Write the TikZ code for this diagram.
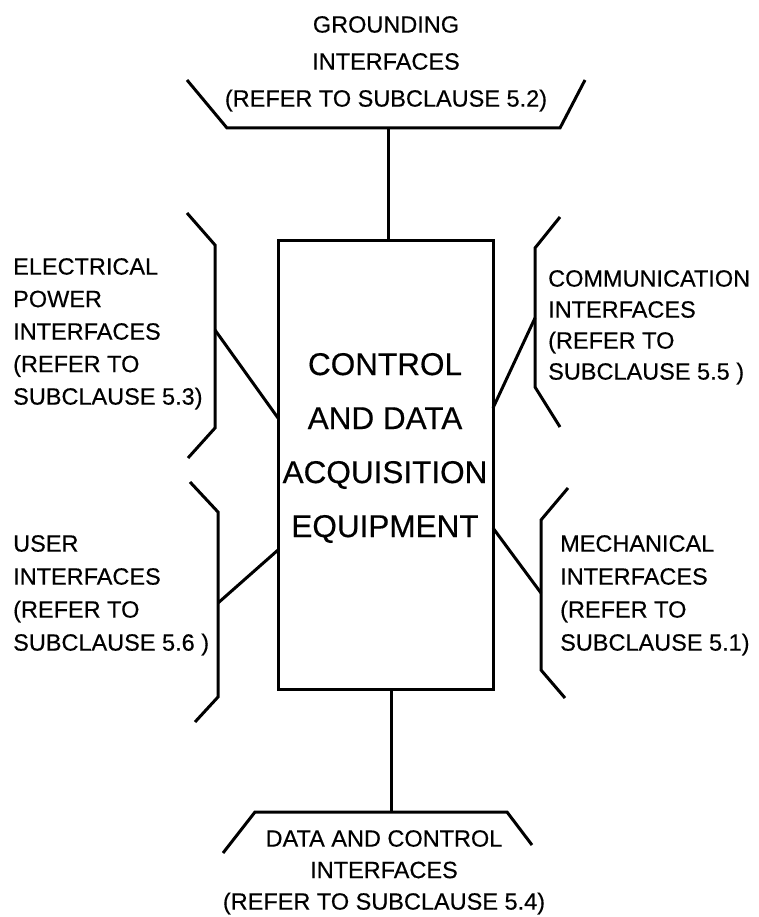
\documentclass[tikz,border=0pt]{standalone}
\usepackage{fontspec}
\setmainfont{Liberation Sans}[FakeBold=0.4]
\usetikzlibrary{positioning}

\tikzset{
	wire/.style={line width=3pt, line join=miter},
	lbl/.style={inner sep=0pt, align=left, anchor=north west, font=\fontsize{23.5}{32.5}\selectfont},
	clbl/.style={inner sep=0pt, align=center, anchor=north},
}

\begin{document}
\begin{tikzpicture}[x=1pt,y=-1pt]
	\useasboundingbox (0,0) rectangle (759,917);
	% main box
	\node [draw, line width=3pt, inner sep=0pt, minimum width=215pt, minimum height=449pt] (equip) at (385.5,464.5) {};
	\node [align=center, inner sep=0pt, font=\fontsize{31.5}{54}\selectfont] (equiptxt) at (385,448) {CONTROL\\AND DATA\\ACQUISITION\\EQUIPMENT};
	%
	\coordinate (gnd) at (388,128);
	\coordinate (pwr) at (215,330);
	\coordinate (pwrin) at (278,418);
	\coordinate (comm) at (535,318);
	\coordinate (commin) at (493,408);
	\coordinate (usr) at (218,603);
	\coordinate (usrin) at (278,550);
	\coordinate (mech) at (541,593);
	\coordinate (mechin) at (493,528);
	\coordinate (dac) at (391,812);
	\coordinate (dacin) at (391,689);
	%
	\draw [wire] (187,80) -- (227,128) -- (560,128) -- (585,80);
	\draw [wire] (187,213) -- (215,245) -- (215,428) -- (188,458);
	\draw [wire] (560,217) -- (535,248) -- (535,387) -- (560,427);
	\draw [wire] (190,482) -- (218,512) -- (218,697) -- (195,722);
	\draw [wire] (568,488) -- (541,520) -- (541,670) -- (565,698);
	\draw [wire] (223,853) -- (255,812) -- (507,812) -- (532,845);
	%
	\draw [wire] (gnd) -- (gnd |- equip.north);
	\draw [wire] (pwr) -- (pwrin);
	\draw [wire] (comm) -- (commin);
	\draw [wire] (usr) -- (usrin);
	\draw [wire] (mech) -- (mechin);
	\draw [wire] (dacin) -- (dac);
	%
	\node [clbl, font=\fontsize{23.5}{37}\selectfont] (gndtxt) at (386,16) {GROUNDING\\INTERFACES\\(REFER TO SUBCLAUSE 5.2)};
	\node [lbl] (pwrtxt) at (13,258) {ELECTRICAL\\POWER\\INTERFACES\\(REFER TO\\SUBCLAUSE 5.3)};
	\node [lbl, font=\fontsize{23.5}{31}\selectfont] (commtxt) at (548,270) {COMMUNICATION\\INTERFACES\\(REFER TO\\SUBCLAUSE 5.5 )};
	\node [lbl, font=\fontsize{23.5}{33}\selectfont] (usrtxt) at (13,535) {USER\\INTERFACES\\(REFER TO\\SUBCLAUSE 5.6 )};
	\node [lbl, font=\fontsize{23.5}{33}\selectfont] (mechtxt) at (560,535) {MECHANICAL\\INTERFACES\\(REFER TO\\SUBCLAUSE 5.1)};
	\node [clbl, font=\fontsize{23.5}{31.5}\selectfont] (dactxt) at (384,830) {DATA AND CONTROL\\INTERFACES\\(REFER TO SUBCLAUSE 5.4)};
\end{tikzpicture}
\end{document}
